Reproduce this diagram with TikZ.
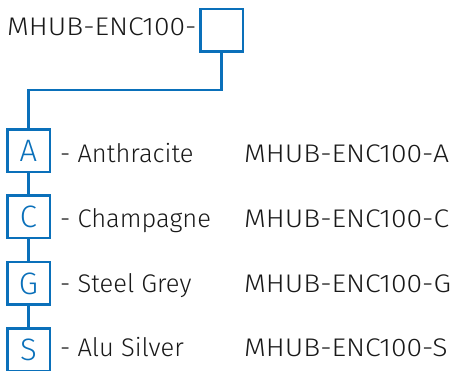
\documentclass[tikz,border=0pt]{standalone}
\usepackage{fontspec}
\setmainfont{Fira Sans Light}
\newfontfamily\codefont[FakeStretch=1.11]{Fira Sans Light}
\definecolor{hubblue}{RGB}{10,112,186}
\begin{document}
\begin{tikzpicture}[x=1pt,y=1pt,
  box/.style={draw=hubblue,line width=2.5pt,minimum size=42.5pt,inner sep=0pt,
    text=hubblue,font=\fontsize{31}{31}\selectfont},
  lbl/.style={anchor=base west,inner sep=0pt,text=black!90,font=\fontsize{25.5}{25.5}\selectfont},
  code/.style={lbl,font=\codefont\fontsize{25.5}{25.5}\selectfont},
  link/.style={draw=hubblue,line width=2.5pt}]
\useasboundingbox (0,0) rectangle (455,371);
\clip (0,0) rectangle (455,371);
\node[box] (top) at (221.5,340.5) {};
\node[code] (toplbl) at (7,335) {MHUB-ENC100-};
\node[box] (A) at (28.5,220) {A};
\node[box] (C) at (28.5,154) {C};
\node[box] (G) at (28.5,87.5) {G};
\node[box] (S) at (28.5,21) {S};
\coordinate (bend) at (28.5,281);
\draw[link] (top.south) |- (bend) -- (A.north);
\draw[link] (A.south) -- (C.north);
\draw[link] (C.south) -- (G.north);
\draw[link] (G.south) -- (S.north);
\node[lbl] (la) at (60,208) {- Anthracite};
\node[lbl] (lc) at (60,143) {- Champagne};
\node[lbl] (lg) at (60,78) {- Steel Grey};
\node[lbl] (ls) at (60,14) {- Alu Silver};
\node[code] (ca) at (244,208) {MHUB-ENC100-A};
\node[code] (cc) at (244,143) {MHUB-ENC100-C};
\node[code] (cg) at (244,78) {MHUB-ENC100-G};
\node[code] (cs) at (244,14) {MHUB-ENC100-S};
\end{tikzpicture}
\end{document}
